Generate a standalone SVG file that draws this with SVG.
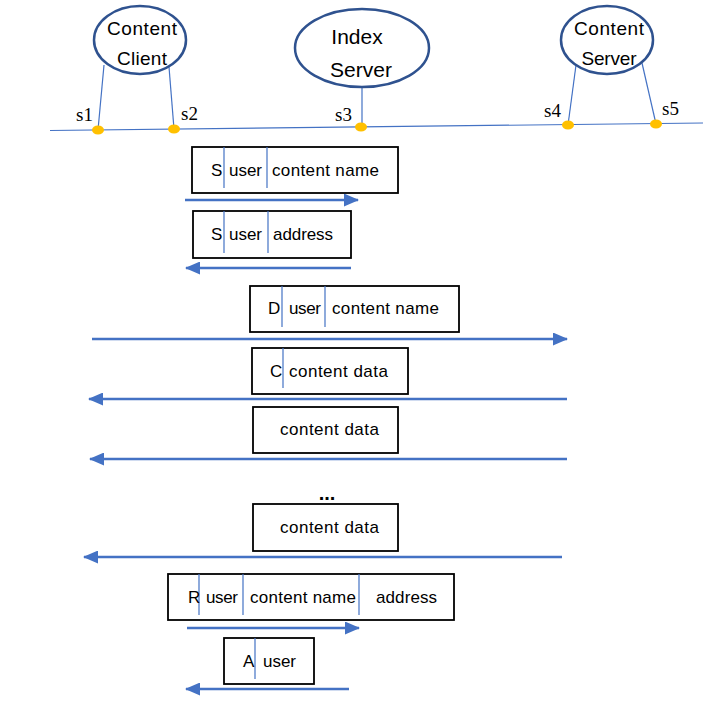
<svg xmlns="http://www.w3.org/2000/svg" width="703" height="710" viewBox="0 0 703 710">
<defs>
<style>
.ell{fill:#fff;stroke:#2F528F;stroke-width:2.5}
.nt{font-family:"Liberation Sans",Arial,sans-serif;fill:#000}
.sl{font-family:"Liberation Serif","Times New Roman",serif;font-size:19px;fill:#000}
.thin{stroke:#4472C4;stroke-width:1.2;fill:none}
.box{fill:#fff;stroke:#000;stroke-width:1.8}
.div{stroke:#4472C4;stroke-width:1.2}
.bt{font-family:"Liberation Sans",Arial,sans-serif;font-size:17px;fill:#000}
.arr{stroke:#4472C4;stroke-width:2.5;fill:none;marker-end:url(#ah)}
.dot{fill:#FFC000}
</style>
<marker id="ah" markerWidth="6" markerHeight="5.2" refX="5.6" refY="2.6" orient="auto" markerUnits="strokeWidth">
<path d="M0,0 L6,2.6 L0,5.2 Z" fill="#4472C4"/>
</marker>
</defs>
<rect width="703" height="710" fill="#fff"/>

<g id="connectors">
<line class="thin" x1="50" y1="130.5" x2="703" y2="123"/>
<line class="thin" x1="104" y1="65" x2="98" y2="130"/>
<line class="thin" x1="169" y1="67" x2="174" y2="129"/>
<line class="thin" x1="362" y1="87" x2="362" y2="127"/>
<line class="thin" x1="576" y1="65" x2="568" y2="125"/>
<line class="thin" x1="642" y1="63" x2="656" y2="124"/>
<line class="arr" x1="185" y1="200" x2="358" y2="200"/>
<line class="arr" x1="351" y1="268" x2="186" y2="268"/>
<line class="arr" x1="92" y1="339" x2="567" y2="339"/>
<line class="arr" x1="567" y1="399" x2="89" y2="399"/>
<line class="arr" x1="567" y1="459" x2="90" y2="459"/>
<line class="arr" x1="562" y1="557" x2="84" y2="557"/>
<line class="arr" x1="187" y1="628" x2="359" y2="628"/>
<line class="arr" x1="349" y1="689" x2="186" y2="689"/>
</g>

<g id="content-client">
<ellipse class="ell" cx="140" cy="40" rx="46" ry="34"/>
<text class="nt" font-size="19" x="142" y="35" text-anchor="middle" textLength="70">Content</text>
<text class="nt" font-size="19" x="142" y="65" text-anchor="middle" textLength="50">Client</text>
</g>
<g id="index-server">
<ellipse class="ell" cx="362" cy="48" rx="67" ry="39"/>
<text class="nt" font-size="21" x="357" y="44" text-anchor="middle">Index</text>
<text class="nt" font-size="21" x="361" y="77" text-anchor="middle">Server</text>
</g>
<g id="content-server">
<ellipse class="ell" cx="607" cy="40" rx="46" ry="34"/>
<text class="nt" font-size="19" x="609" y="35" text-anchor="middle" textLength="70">Content</text>
<text class="nt" font-size="19" x="609" y="65" text-anchor="middle" textLength="55">Server</text>
</g>

<g id="bus-points">
<ellipse class="dot" cx="98" cy="130" rx="6" ry="4.5"/>
<ellipse class="dot" cx="174" cy="129" rx="6" ry="4.5"/>
<ellipse class="dot" cx="361" cy="127" rx="6" ry="4.5"/>
<ellipse class="dot" cx="568" cy="125" rx="6" ry="4.5"/>
<ellipse class="dot" cx="656" cy="124" rx="6" ry="4.5"/>
<text class="sl" x="76" y="121">s1</text>
<text class="sl" x="181" y="120">s2</text>
<text class="sl" x="335" y="121">s3</text>
<text class="sl" x="544" y="117">s4</text>
<text class="sl" x="662" y="115">s5</text>
</g>

<g id="msg1">
<rect class="box" x="192" y="147" width="206" height="46"/>
<line class="div" x1="224" y1="147" x2="224" y2="188"/>
<line class="div" x1="267" y1="147" x2="267" y2="188"/>
<text class="bt" x="211" y="176">S</text>
<text class="bt" x="229" y="176" textLength="33">user</text>
<text class="bt" x="272" y="176" textLength="107">content name</text>
</g>
<g id="msg2">
<rect class="box" x="193" y="211" width="158" height="47"/>
<line class="div" x1="224" y1="211" x2="224" y2="253"/>
<line class="div" x1="268" y1="211" x2="268" y2="253"/>
<text class="bt" x="211" y="240">S</text>
<text class="bt" x="229" y="240" textLength="33">user</text>
<text class="bt" x="273" y="240" textLength="60">address</text>
</g>
<g id="msg3">
<rect class="box" x="250" y="286" width="209" height="46"/>
<line class="div" x1="282" y1="286" x2="282" y2="327"/>
<line class="div" x1="325" y1="286" x2="325" y2="327"/>
<text class="bt" x="268" y="314">D</text>
<text class="bt" x="289" y="314" textLength="32">user</text>
<text class="bt" x="332" y="314" textLength="107">content name</text>
</g>
<g id="msg4">
<rect class="box" x="252" y="348" width="156" height="46"/>
<line class="div" x1="283" y1="348" x2="283" y2="388"/>
<text class="bt" x="270" y="377">C</text>
<text class="bt" x="289" y="377" textLength="99">content data</text>
</g>
<g id="msg5">
<rect class="box" x="253" y="407" width="145" height="46"/>
<text class="bt" x="280" y="435" textLength="99">content data</text>
</g>
<text id="ellipsis" x="327" y="500" text-anchor="middle" font-family="Liberation Sans,Arial,sans-serif" font-size="20" font-weight="bold">...</text>
<g id="msg6">
<rect class="box" x="253" y="504" width="145" height="47"/>
<text class="bt" x="280" y="533" textLength="99">content data</text>
</g>
<g id="msg7">
<rect class="box" x="168" y="574" width="286" height="46"/>
<line class="div" x1="199" y1="574" x2="199" y2="615"/>
<line class="div" x1="243" y1="574" x2="243" y2="615"/>
<line class="div" x1="359" y1="574" x2="359" y2="615"/>
<text class="bt" x="188" y="603">R</text>
<text class="bt" x="206" y="603" textLength="32">user</text>
<text class="bt" x="250" y="603" textLength="106">content name</text>
<text class="bt" x="376" y="603" textLength="61">address</text>
</g>
<g id="msg8">
<rect class="box" x="224" y="638" width="90" height="46"/>
<line class="div" x1="255" y1="638" x2="255" y2="679"/>
<text class="bt" x="243" y="667">A</text>
<text class="bt" x="263" y="667" textLength="33">user</text>
</g>
</svg>
